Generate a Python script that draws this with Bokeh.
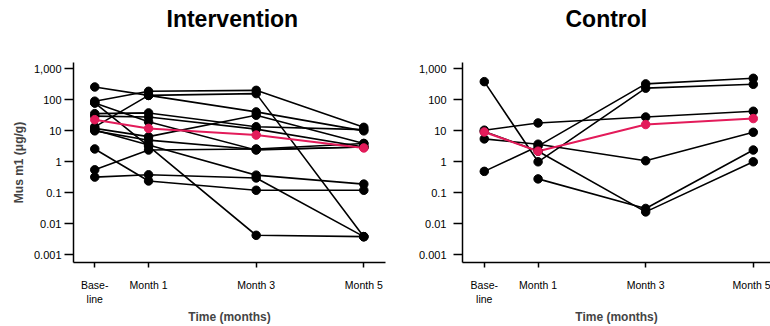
from bokeh.plotting import figure
from bokeh.layouts import row
from bokeh.models import FixedTicker, CustomJSTickFormatter, Range1d
from bokeh.embed import file_html
from bokeh.resources import INLINE

nan = float("nan")

# ---- data ----
months = [0, 1, 3, 5]
month_labels = ["Base-\nline", "Month 1", "Month 3", "Month 5"]
ytick_values = [0.001, 0.01, 0.1, 1, 10, 100, 1000]
ytick_labels = ["0.001", "0.01", "0.1", "1", "10", "100", "1,000"]

panel_titles = ["Intervention", "Control"]
y_label = "Mus m1 (μg/g)"
x_label = "Time (months)"

# Intervention: individual subjects (Baseline, Month 1, Month 3, Month 5)
int_s1 = [262, 140, 41, 10]
int_s2 = [91, 190, 204, 13]
int_s3 = [80, 3.2, 0.0042, 0.0038]
int_s4 = [36, 38, 13.6, 11]
int_s5 = [30, 28, 11.4, 3.0]
int_s6 = [13.5, 140, 160, 0.0038]
int_s7 = [10.6, 3.5, 0.37, 0.19]
int_s8 = [2.6, 0.24, 0.12, 0.12]
int_s9 = [0.55, 2.4, 2.6, 3.9]
int_s10 = [0.32, 0.38, 0.3, 0.0038]
int_s11 = [80, 19.6, 2.4, 3.0]
int_s12 = [12, 6.5, 32, 3.9]
int_s13 = [10, 5.0, 2.5, 3.0]
int_mean = [23, 12, 7.3, 2.8]

# Control: individual subjects
ctl_s1 = [390, 1.0, 240, 320]
ctl_s2 = [10.5, 18, 28, 43]
ctl_s3 = [5.5, 3.7, 1.08, 9]
ctl_s4 = [0.49, 3.2, 330, 500]
ctl_s5 = [nan, 0.28, 0.031, 2.4]
ctl_s6 = [9.5, 2.2, 0.024, 1.0]
ctl_mean = [9.2, 2.2, 16, 25]

int_subjects = [int_s1, int_s2, int_s3, int_s4, int_s5, int_s6, int_s7,
                int_s8, int_s9, int_s10, int_s11, int_s12, int_s13]
ctl_subjects = [ctl_s1, ctl_s2, ctl_s3, ctl_s4, ctl_s5, ctl_s6]

FONT = "Liberation Sans"
RED = "#e31b5a"

fmt_code = """
for (let i = 0; i < vals.length; i++) {
  if (Math.abs(Math.log10(tick) - Math.log10(vals[i])) < 1e-6) return labs[i];
}
return "";
"""


def make_panel(title, subjects, mean, width, x_start, x_end, mbl, mbr,
               tick_standoff, show_ylabel, title_offset):
    # a trailing empty line keeps the title at the top of the page
    p = figure(width=width, height=326,
               x_range=Range1d(x_start, x_end),
               y_range=Range1d(10 ** -3.256, 10 ** 3.21),
               y_axis_type="log",
               output_backend="svg", toolbar_location=None,
               min_border_left=mbl, min_border_right=mbr,
               min_border_top=62, min_border_bottom=62,
               title=title + "\n")
    p.outline_line_color = None
    p.background_fill_color = "white"
    p.border_fill_color = "white"
    p.xgrid.visible = False
    p.ygrid.visible = False

    p.title.align = "left"
    p.title.vertical_align = "top"
    p.title.text_font = FONT
    p.title.text_font_size = "23px"
    p.title.text_font_style = "bold"
    p.title.text_color = "black"
    p.title.standoff = 6
    p.title.offset = title_offset

    ya = p.yaxis[0]
    ya.ticker = FixedTicker(ticks=ytick_values)
    ya.formatter = CustomJSTickFormatter(args=dict(vals=ytick_values, labs=ytick_labels), code=fmt_code)
    ya.major_tick_out = 9
    ya.major_tick_in = 0
    ya.minor_tick_out = 0
    ya.minor_tick_in = 0
    ya.axis_line_width = 1.5
    ya.major_tick_line_width = 1.5
    ya.major_label_standoff = tick_standoff
    ya.major_label_text_font = FONT
    ya.major_label_text_font_size = "11px"
    ya.major_label_text_color = "black"
    if show_ylabel:
        ya.axis_label = y_label
        ya.axis_label_text_font = FONT
        ya.axis_label_text_font_size = "12px"
        ya.axis_label_text_font_style = "bold"
        ya.axis_label_standoff = 5

    xa = p.xaxis[0]
    xa.ticker = FixedTicker(ticks=months)
    xa.major_label_overrides = {m: l for m, l in zip(months, month_labels)}
    xa.major_tick_out = 5
    xa.major_tick_in = 0
    xa.minor_tick_out = 0
    xa.axis_line_width = 1.5
    xa.major_tick_line_width = 1.5
    xa.major_label_standoff = 11
    xa.major_label_text_font = FONT
    xa.major_label_text_font_size = "10.5px"
    xa.major_label_text_color = "black"
    xa.axis_label = x_label
    xa.axis_label_text_font = FONT
    xa.axis_label_text_font_size = "12px"
    xa.axis_label_text_font_style = "bold"
    xa.axis_label_standoff = 2

    for s in subjects:
        p.line(months, s, line_color="black", line_width=1.6)
    p.line(months, mean, line_color=RED, line_width=2)
    for s in subjects:
        p.scatter(months, s, size=8.5, color="black")
    p.scatter(months, mean, size=8.5, color=RED)
    return p


left = make_panel(panel_titles[0], int_subjects, int_mean, 400, -0.395, 5.403, 73, 15, 3, True, 93)
right = make_panel(panel_titles[1], ctl_subjects, ctl_mean, 370, -0.405, 5.32, 62, 0, 7, False, 103)

layout = row(left, right)
open("out.html", "w").write(file_html(layout, INLINE))
